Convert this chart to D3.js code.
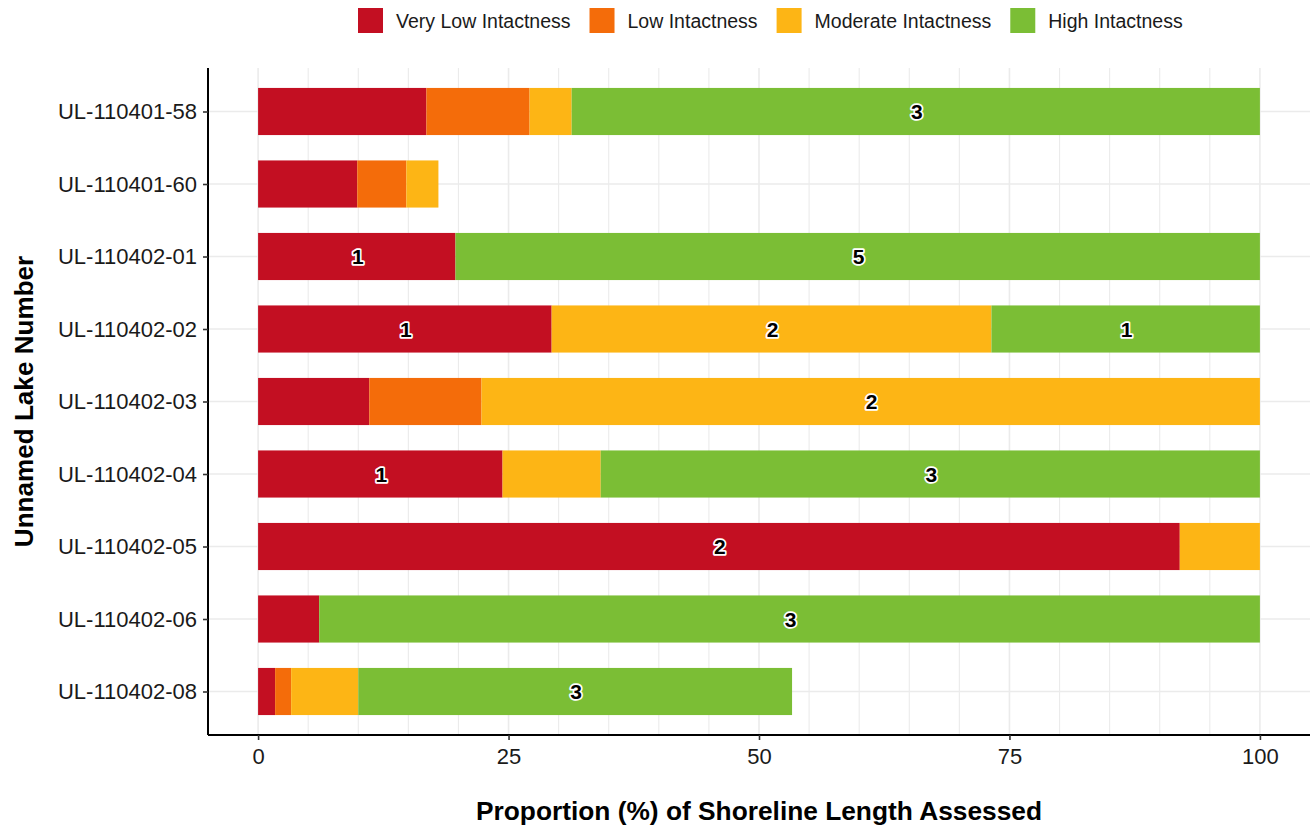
<!DOCTYPE html>
<html><head><meta charset="utf-8">
<script src="https://cdn.jsdelivr.net/npm/d3@7"></script>
<style>body{margin:0;background:#fff}svg{display:block;font-family:"Liberation Sans",Arial,sans-serif}</style>
</head><body><svg id="c" width="1314" height="829"></svg>
<script>
const lakes = ["UL-110401-58","UL-110401-60","UL-110402-01","UL-110402-02","UL-110402-03","UL-110402-04","UL-110402-05","UL-110402-06","UL-110402-08"];
const seriesNames = ["Very Low Intactness","Low Intactness","Moderate Intactness","High Intactness"];
const seriesColors = ["#C30F22","#F46C0A","#FDB515","#7BBE35"];
// segment widths (% of shoreline) per lake
const veryLow  = [16.8, 9.9, 19.7, 29.3, 11.1, 24.4, 92.0, 6.1, 1.7];
const low      = [10.3, 4.9, 0, 0, 11.2, 0, 0, 0, 1.6];
const moderate = [4.2, 3.2, 0, 43.9, 77.7, 9.8, 8.0, 0, 6.7];
const high     = [68.7, 0, 80.3, 26.8, 0, 65.8, 0, 93.9, 43.3];
// count labels shown in segments (null = no label)
const veryLowLbl  = [null,null,1,1,null,1,2,null,null];
const lowLbl      = [null,null,null,null,null,null,null,null,null];
const moderateLbl = [null,null,null,2,2,null,null,null,null];
const highLbl     = [3,null,5,1,null,3,null,3,3];
const xTicks = [0,25,50,75,100];

const series = [veryLow, low, moderate, high];
const labels = [veryLowLbl, lowLbl, moderateLbl, highLbl];

const svg = d3.select("#c");
const L=208, R=1310, T=68, B=735;
const x = d3.scaleLinear().domain([-5,105]).range([L,R]);
const y = d3.scalePoint().domain(lakes).range([T,B]).padding(0.6);
const step = y.step();
const bh = step*0.65;

// grid
const g = svg.append("g");
g.selectAll(".vg").data(d3.range(0,101,5)).join("line")
  .attr("x1",d=>x(d)).attr("x2",d=>x(d)).attr("y1",T).attr("y2",B)
  .attr("stroke","#EBEBEB").attr("stroke-width",d=>d%25===0?1.6:1.1);
g.selectAll(".hg").data(lakes).join("line")
  .attr("x1",L).attr("x2",R).attr("y1",d=>y(d)).attr("y2",d=>y(d))
  .attr("stroke","#EBEBEB").attr("stroke-width",1.6);

// bars
const segs=[], lbls=[];
lakes.forEach((lake,i)=>{
  let acc=0;
  series.forEach((s,k)=>{
    const v=s[i];
    if(v>0){
      segs.push({lake,x0:acc,x1:acc+v,k});
      if(labels[k][i]!=null) lbls.push({lake,xm:acc+v/2,t:labels[k][i]});
    }
    acc+=v;
  });
});
svg.append("g").selectAll("rect").data(segs).join("rect")
  .attr("x",d=>x(d.x0)).attr("width",d=>x(d.x1)-x(d.x0))
  .attr("y",d=>y(d.lake)-bh/2).attr("height",bh)
  .attr("fill",d=>seriesColors[d.k]);
svg.append("g").selectAll("text").data(lbls).join("text")
  .attr("x",d=>x(d.xm)+1).attr("y",d=>y(d.lake)).attr("dy","0.36em")
  .attr("text-anchor","middle").attr("font-weight","bold").attr("font-size",21)
  .attr("fill","#000").attr("stroke","#fff").attr("stroke-width",3.5)
  .attr("stroke-linejoin","round").attr("paint-order","stroke")
  .text(d=>d.t);

// axes
const xa = svg.append("g").attr("transform",`translate(0,${B})`)
  .call(d3.axisBottom(x).tickValues(xTicks).tickSize(5).tickPadding(8));
const ya = svg.append("g").attr("transform",`translate(${L},0)`)
  .call(d3.axisLeft(y).tickSize(5).tickPadding(6));
[xa,ya].forEach(a=>{
  a.select(".domain").attr("stroke","#000").attr("stroke-width",2);
  a.selectAll(".tick line").attr("stroke","#333").attr("stroke-width",1.6);
  a.selectAll(".tick text").attr("fill","#1a1a1a").attr("font-size",22)
   .attr("font-family","Liberation Sans, Arial, sans-serif");
});
xa.select(".domain").attr("d",`M${L},0H${R}`);
ya.select(".domain").attr("d",`M0,${T}V${B}`);

// axis titles
svg.append("text").attr("x",(L+R)/2).attr("y",820).attr("text-anchor","middle")
  .attr("font-weight","bold").attr("font-size",26.3).attr("fill","#000")
  .text("Proportion (%) of Shoreline Length Assessed");
svg.append("text").attr("transform",`translate(33,${(T+B)/2}) rotate(-90)`)
  .attr("text-anchor","middle").attr("font-weight","bold").attr("font-size",26.1).attr("fill","#000")
  .text("Unnamed Lake Number");

// legend
const lg = svg.append("g");
let lx = 358;
seriesNames.forEach((n,k)=>{
  lg.append("rect").attr("x",lx).attr("y",8).attr("width",25).attr("height",25).attr("fill",seriesColors[k]);
  const t = lg.append("text").attr("x",lx+38).attr("y",20.5).attr("dy","0.36em")
    .attr("font-size",19.5).attr("fill","#1a1a1a").text(n);
  lx += 38 + t.node().getComputedTextLength() + 19;
});
</script></body></html>
